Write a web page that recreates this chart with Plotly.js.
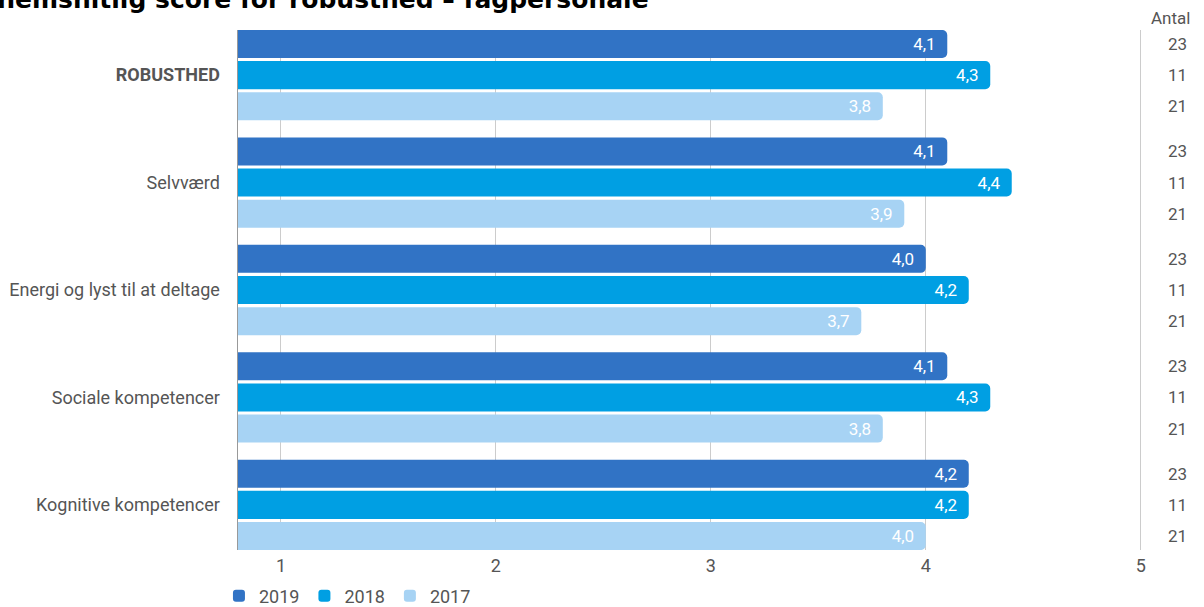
<!DOCTYPE html>
<html>
<head>
<meta charset="utf-8">
<script src="https://cdn.plot.ly/plotly-3.0.1.min.js"></script>
<style>html,body{margin:0;padding:0;background:#fff;}#chart{width:1204px;height:607px;}</style>
</head>
<body>
<div id="chart"></div>
<script>
const categories = ["<b>ROBUSTHED</b>", "Selvværd", "Energi og lyst til at deltage", "Sociale kompetencer", "Kognitive kompetencer"];
const seriesNames = ["2019", "2018", "2017"];
const values2019 = [4.1, 4.1, 4.0, 4.1, 4.2];
const values2018 = [4.3, 4.4, 4.2, 4.3, 4.2];
const values2017 = [3.8, 3.9, 3.7, 3.8, 4.0];
const antal = [23, 11, 21];
const colors = ["#3173C5", "#009FE3", "#A7D3F4"];
const titleText = "Gennemsnitlig score for robusthed – fagpersonale";

const allValues = [values2019, values2018, values2017];
const traces = allValues.map((vals, i) => ({
  type: "bar",
  orientation: "h",
  name: seriesNames[i],
  x: vals,
  y: categories,
  marker: {color: colors[i]},
  texttemplate: "%{x:.1f}\u00a0\u00a0",
  textposition: "inside",
  insidetextanchor: "end",
  textfont: {family: "Roboto", size: 17, color: "#ffffff"},
  hoverinfo: "skip",
  cliponaxis: false
}));

const bargap = 0.13;
const slot = (1 - bargap) / 3;
const annotations = [];
categories.forEach((c, ci) => {
  antal.forEach((n, si) => {
    annotations.push({
      xref: "paper", yref: "y",
      x: 1.036, y: ci + (si - 1) * slot,
      text: String(n), showarrow: false,
      xanchor: "center", yanchor: "middle",
      font: {family: "Roboto", size: 17, color: "#555555"}
    });
  });
});
annotations.push({
  xref: "paper", yref: "paper", x: 1.0285, y: 1.023,
  text: "Antal", showarrow: false, xanchor: "center", yanchor: "middle",
  font: {family: "Roboto", size: 17, color: "#555555"}
});
annotations.push({
  xref: "paper", yref: "paper", x: 0.4552, y: 1.0587,
  text: "<b>" + titleText + "</b>", showarrow: false, xanchor: "right", yanchor: "middle",
  font: {family: "DejaVu Sans", size: 25, color: "#000000"}
});

const layout = {
  width: 1204, height: 607,
  margin: {l: 238, r: 59, t: 30, b: 57},
  paper_bgcolor: "#ffffff", plot_bgcolor: "#ffffff",
  separators: ",.",
  barmode: "group",
  bargap: bargap,
  bargroupgap: 0.1,
  barcornerradius: 5,
  showlegend: true,
  legend: {orientation: "h", x: -0.021, xanchor: "left", xref: "paper",
    y: 0.018, yanchor: "middle", yref: "container",
    font: {family: "Roboto", size: 18, color: "#555555"}, traceorder: "normal",
    itemwidth: 30, tracegroupgap: 0},
  xaxis: {range: [0.8, 5.02], tickvals: [1, 2, 3, 4, 5], ticktext: ["1", "2", "3", "4", "5"],
    showgrid: true, gridcolor: "#cccccc", gridwidth: 1, zeroline: false, showline: false,
    ticks: "", ticklabelstandoff: 3,
    tickfont: {family: "Roboto", size: 18, color: "#555555"}, fixedrange: true},
  yaxis: {range: [4.42, -0.42], type: "category", showgrid: false, zeroline: false,
    showline: true, linecolor: "#999999", linewidth: 1.5, ticks: "",
    ticklabelstandoff: 13,
    tickfont: {family: "Roboto", size: 18, color: "#555555"}, fixedrange: true},
  annotations: annotations
};

Plotly.newPlot("chart", traces, layout, {displayModeBar: false, staticPlot: true});
</script>
</body>
</html>
